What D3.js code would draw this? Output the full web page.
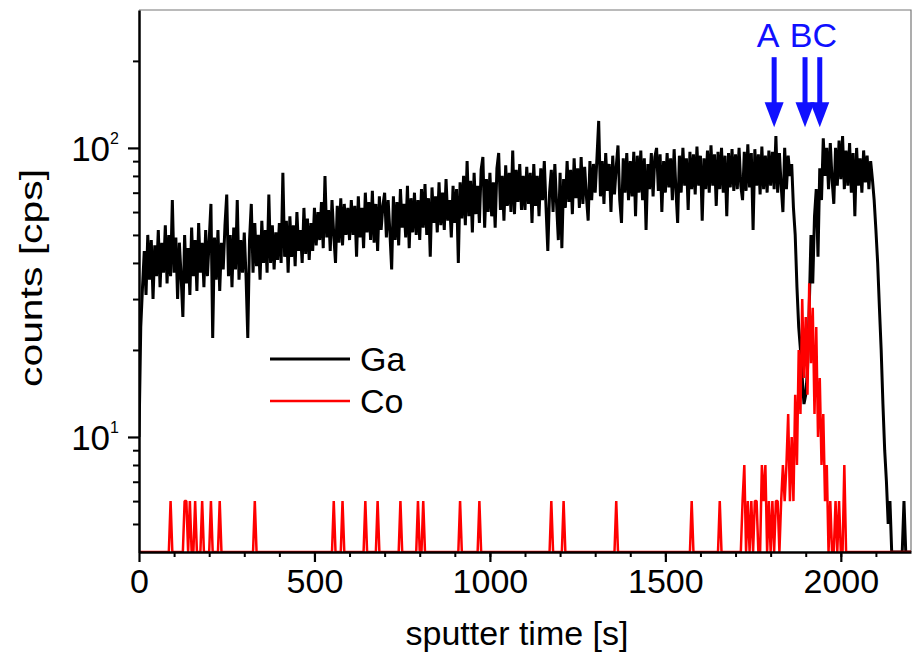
<!DOCTYPE html>
<html>
<head>
<meta charset="utf-8">
<script src="https://cdn.jsdelivr.net/npm/d3@7"></script>
<style>
  body { margin: 0; background: #fff; }
  svg { font-family: "Liberation Sans", Arial, sans-serif; }
</style>
</head>
<body>
<div id="chart"></div>
<script>
// Data: Ga counts every 5 s from t = 0 s
const gaStep = 5;
const gaCounts = [
  10, 24, 33, 44, 31, 50, 35, 48, 30, 46, 36, 52, 33, 47, 37, 54, 34, 50, 36, 66,
  37, 49, 30, 47, 36, 26, 50, 34, 45, 31, 53, 36, 48, 32, 55, 37, 47, 33, 52, 36,
  48, 64, 22, 49, 35, 52, 32, 47, 38, 54, 69, 36, 50, 33, 53, 38, 66, 35, 48, 37,
  51, 36, 22, 48, 64, 37, 55, 39, 50, 35, 56, 40, 52, 37, 69, 40, 54, 38, 51, 41,
  55, 40, 82, 42, 56, 37, 58, 42, 54, 39, 60, 44, 52, 40, 62, 43, 57, 41, 55, 44,
  62, 46, 60, 48, 65, 45, 80, 49, 61, 44, 66, 50, 40, 63, 47, 67, 46, 64, 50, 62,
  48, 66, 50, 63, 42, 68, 49, 62, 45, 70, 51, 65, 48, 71, 47, 64, 44, 68, 52, 63,
  70, 49, 66, 51, 38, 68, 48, 65, 46, 72, 53, 64, 49, 74, 45, 67, 51, 70, 50, 66,
  48, 72, 53, 75, 50, 67, 42, 73, 55, 68, 51, 76, 54, 70, 52, 78, 56, 66, 49, 74,
  55, 72, 40, 76, 57, 80, 54, 90, 58, 77, 51, 82, 59, 74, 55, 84, 93, 53, 78, 60,
  82, 58, 76, 53, 85, 96, 61, 80, 56, 87, 63, 82, 60, 98, 59, 84, 65, 88, 61, 80,
  61, 86, 64, 82, 55, 88, 63, 80, 58, 85, 66, 90, 62, 44, 70, 84, 60, 88, 64, 48,
  82, 45, 78, 62, 90, 65, 84, 59, 92, 67, 85, 62, 93, 64, 86, 68, 56, 90, 66, 88,
  70, 92, 124, 68, 90, 64, 96, 71, 88, 60, 94, 69, 86, 102, 66, 55, 92, 70, 96, 66,
  90, 68, 97, 58, 94, 70, 98, 66, 92, 52, 88, 72, 96, 68, 93, 100, 71, 95, 60, 90,
  70, 96, 73, 92, 66, 99, 72, 55, 94, 70, 100, 74, 92, 61, 97, 72, 95, 69, 101, 74,
  94, 56, 92, 72, 98, 70, 102, 74, 95, 63, 97, 72, 100, 70, 94, 58, 96, 73, 99, 71,
  95, 72, 100, 74, 66, 97, 71, 103, 73, 96, 52, 99, 74, 95, 69, 101, 72, 94, 70, 98,
  74, 97, 72, 110, 70, 96, 74, 60, 100, 72, 94, 80, 88, 62, 50, 33, 24, 20, 16, 13,
  14, 17, 28, 50, 34, 58, 72, 42, 85, 66, 108, 80, 100, 72, 104, 78, 64, 100, 74, 106,
  78, 110, 72, 98, 74, 104, 70, 96, 58, 100, 74, 92, 70, 98, 76, 94, 72, 90, 78, 66,
  52, 40, 28, 20, 13, 9, 7, 5, 6, 0, 0, 0, 0, 0, 0, 0, 6, 0, 0, 0,
  0
];

// Co: isolated 6 cps spikes and the peak region around the interface (5 s steps)
const coSpikeTimes = [90, 130, 135, 145, 160, 180, 205, 230, 330, 555, 580, 645, 680, 745,
  795, 810, 915, 970, 1175, 1210, 1360, 1575, 1655];
const coPeakStart = 1715;
const coPeakCounts = [
  0, 6, 8, 0, 6, 0, 6, 0, 6, 6, 0, 0, 8, 6, 8, 0, 6, 0, 6, 0,
  6, 6, 0, 6, 8, 6, 8, 12, 6, 10, 6, 14, 8, 20, 12, 30, 16, 26, 14, 34,
  18, 28, 12, 24, 10, 16, 8, 12, 6, 8, 0, 6, 0, 0, 6, 0, 6, 0, 0, 8,
  0, 0, 0
];

const xTicks = [0, 500, 1000, 1500, 2000];
const xMinor = d3.range(100, 2200, 100);
const yMajor = [10, 100];
const yMinor = [5, 6, 7, 8, 9, 20, 30, 40, 50, 60, 70, 80, 90, 200];

const seriesNames = ['Ga', 'Co'];
const seriesColors = ['#000000', '#ff0000'];

const markers = [
  { label: 'A', time: 1810 },
  { label: 'B', time: 1898 },
  { label: 'C', time: 1940 }
];

// Build series
const gaData = gaCounts.map((v, i) => ({ t: i * gaStep, v }));
const coData = gaData.map(d => {
  const k = (d.t - coPeakStart) / 5;
  let v = 0;
  if (k >= 0 && k < coPeakCounts.length) v = coPeakCounts[k];
  else if (coSpikeTimes.includes(d.t)) v = 6;
  return { t: d.t, v };
});

const WIDTH = 916, HEIGHT = 658;
const LEFT = 139, RIGHT = 911, TOP = 10, BOTTOM = 552;
const FONT = 34;

const x = d3.scaleLinear().domain([0, 2200]).range([LEFT, RIGHT]);
const y = d3.scaleLog().domain([4, 300]).range([BOTTOM, TOP]);
const yv = v => y(Math.max(v, 4));

const svg = d3.select('#chart').append('svg')
  .attr('width', WIDTH)
  .attr('height', HEIGHT);

svg.append('rect').attr('width', WIDTH).attr('height', HEIGHT).attr('fill', '#fff');

svg.append('clipPath').attr('id', 'plot-clip')
  .append('rect')
  .attr('x', LEFT).attr('y', TOP)
  .attr('width', RIGHT - LEFT).attr('height', BOTTOM - TOP + 1);

// Frame (top & right, thin grey)
svg.append('path')
  .attr('d', `M${LEFT},${TOP}H${RIGHT}V${BOTTOM}`)
  .attr('fill', 'none')
  .attr('stroke', '#777')
  .attr('stroke-width', 1.2);

// Lines
const line = d3.line().x(d => x(d.t)).y(d => yv(d.v));
const plot = svg.append('g').attr('clip-path', 'url(#plot-clip)');
plot.append('path')
  .datum(gaData)
  .attr('fill', 'none')
  .attr('stroke', seriesColors[0])
  .attr('stroke-width', 3)
  .attr('stroke-linejoin', 'bevel')
  .attr('d', line);
plot.append('path')
  .datum(coData)
  .attr('fill', 'none')
  .attr('stroke', seriesColors[1])
  .attr('stroke-width', 2.5)
  .attr('stroke-linejoin', 'bevel')
  .attr('d', line);

// X axis
const xAxisG = svg.append('g').attr('transform', `translate(0,${BOTTOM})`);
xAxisG.append('g')
  .call(d3.axisBottom(x).tickValues(xMinor).tickSize(5).tickFormat(''))
  .call(g => g.select('.domain').remove())
  .call(g => g.selectAll('line').attr('stroke-width', 2));
xAxisG.append('g')
  .call(d3.axisBottom(x).tickValues(xTicks).tickSize(10).tickSizeOuter(0)
    .tickPadding(7).tickFormat(d3.format('d')))
  .call(g => g.select('.domain').attr('stroke-width', 2.5))
  .call(g => g.selectAll('.tick line').attr('stroke-width', 2.2))
  .call(g => g.selectAll('.tick text')
    .attr('font-size', FONT)
    .attr('font-family', '"Liberation Sans", Arial, sans-serif')
    .attr('fill', '#000'));
xAxisG.selectAll('line, path').attr('stroke', '#000');

// Y axis
const yAxisG = svg.append('g').attr('transform', `translate(${LEFT},0)`);
yAxisG.append('g')
  .call(d3.axisLeft(y).tickValues(yMinor).tickSize(6).tickFormat(''))
  .call(g => g.select('.domain').remove())
  .call(g => g.selectAll('line').attr('stroke-width', 2));
yAxisG.append('g')
  .call(d3.axisLeft(y).tickValues(yMajor).tickSize(11).tickSizeOuter(0).tickFormat(''))
  .call(g => g.select('.domain').attr('stroke-width', 2.5))
  .call(g => g.selectAll('line').attr('stroke-width', 2.2));
yAxisG.selectAll('line, path').attr('stroke', '#000');

const yLab = yAxisG.selectAll('.ylab')
  .data(yMajor)
  .join('text')
  .attr('class', 'ylab')
  .attr('x', -20)
  .attr('y', d => y(d) + 13)
  .attr('text-anchor', 'end')
  .attr('font-size', 35)
  .attr('fill', '#000');
yLab.append('tspan').text('10');
yLab.append('tspan')
  .attr('dy', -17)
  .attr('font-size', 16)
  .text(d => Math.round(Math.log10(d)));

// Axis titles
svg.append('text')
  .attr('x', (LEFT + RIGHT) / 2 - 8)
  .attr('y', 645)
  .attr('text-anchor', 'middle')
  .attr('font-size', FONT)
  .attr('fill', '#000')
  .text('sputter time [s]');

svg.append('text')
  .attr('transform', 'translate(42,278) rotate(-90)')
  .attr('text-anchor', 'middle')
  .attr('font-size', 32)
  .attr('textLength', 218)
  .attr('lengthAdjust', 'spacingAndGlyphs')
  .attr('fill', '#000')
  .text('counts [cps]');

// Legend
const legend = svg.append('g').attr('transform', 'translate(270,359)');
seriesNames.forEach((name, i) => {
  const g = legend.append('g').attr('transform', `translate(0,${i * 42})`);
  g.append('line')
    .attr('x1', 0).attr('x2', 80)
    .attr('stroke', seriesColors[i])
    .attr('stroke-width', i === 0 ? 3 : 2.5);
  g.append('text')
    .attr('x', 90).attr('y', 12)
    .attr('font-size', FONT)
    .attr('fill', '#000')
    .text(name);
});

// Blue arrows
const blue = '#1010ff';
const arrows = svg.append('g');
markers.forEach(m => {
  const cx = x(m.time);
  const yTop = y(206), yHead = y(144), yTip = y(118);
  arrows.append('rect')
    .attr('x', cx - 2.5).attr('y', yTop)
    .attr('width', 5).attr('height', yHead - yTop + 2)
    .attr('fill', blue);
  arrows.append('path')
    .attr('d', `M${cx - 9.5},${yHead}L${cx + 9.5},${yHead}L${cx},${yTip}Z`)
    .attr('fill', blue);
});
arrows.append('text')
  .attr('x', x(markers[0].time) - 6)
  .attr('y', 47)
  .attr('text-anchor', 'middle')
  .attr('font-size', FONT)
  .attr('fill', blue)
  .text(markers[0].label);
arrows.append('text')
  .attr('x', (x(markers[1].time) + x(markers[2].time)) / 2 + 1)
  .attr('y', 47)
  .attr('text-anchor', 'middle')
  .attr('font-size', FONT)
  .attr('fill', blue)
  .text(markers[1].label + markers[2].label);
</script>
</body>
</html>
